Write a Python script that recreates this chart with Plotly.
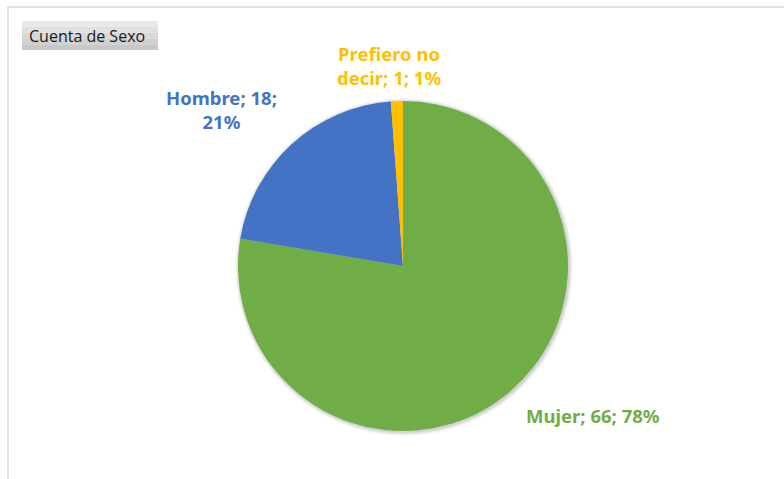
import plotly.graph_objects as go

# data
labels = ["Mujer", "Hombre", "Prefiero no decir"]
values = [66, 18, 1]
colors = ["#70AD47", "#4472C4", "#FFC000"]
label_text = ["Mujer; 66; 78%", "Hombre; 18;<br>21%", "Prefiero no<br>decir; 1; 1%"]
title = "Cuenta de Sexo"

W, H = 784, 479

def px(x):
    return x / W

def py(y):
    return 1 - y / H

# pie box in pixels (left, top, right, bottom)
PL, PT, PR, PB = 238, 101, 568, 431

fig = go.Figure(go.Pie(
    labels=labels,
    values=values,
    marker=dict(colors=colors, line=dict(width=0)),
    sort=False,
    direction="clockwise",
    rotation=0,
    textinfo="none",
    hoverinfo="label+value+percent",
    domain=dict(x=[px(PL), px(PR)], y=[py(PB), py(PT)]),
    showlegend=False,
))

# soft shadow round the pie
for d, op in [(4, 0.03), (3, 0.04), (2, 0.05), (1, 0.06)]:
    fig.add_shape(type="circle", xref="paper", yref="paper", layer="below",
                  x0=px(PL - d + 1), x1=px(PR + d + 1),
                  y0=py(PB + d + 1), y1=py(PT - d + 1),
                  line=dict(width=0), fillcolor=f"rgba(0,0,0,{op})")

# data labels placed outside the pie, like Excel does
label_pos = [(593, 415), (221, 110), (389, 65)]
for txt, col, (x, y) in zip(label_text, colors, label_pos):
    fig.add_annotation(
        x=px(x), y=py(y), xref="paper", yref="paper",
        text=f"<b>{txt}</b>", showarrow=False,
        font=dict(family="Noto Sans", size=18.5, color=col),
        align="center", xanchor="center", yanchor="middle",
    )

# chart frame
fig.add_shape(type="rect", xref="paper", yref="paper",
              x0=px(8), x1=px(790), y0=py(490), y1=py(7),
              line=dict(color="#D9D9D9", width=1.5), fillcolor="rgba(0,0,0,0)")

# field button "Cuenta de Sexo" (grey gradient)
band_cols = ["#E8E8E8", "#E0E0E0", "#D8D8D8", "#D0D0D0", "#C8C8C8"]
top, bot = 21, 50
step = (bot - top) / len(band_cols)
for i, c in enumerate(band_cols):
    fig.add_shape(type="rect", xref="paper", yref="paper",
                  x0=px(22), x1=px(158), y0=py(top + (i + 1) * step), y1=py(top + i * step),
                  line=dict(width=0), fillcolor=c)
fig.add_annotation(
    x=px(27), y=py(36), xref="paper", yref="paper",
    text=title, showarrow=False,
    font=dict(family="Open Sans", size=16, color="#1A1A1A"),
    xanchor="left", yanchor="middle",
)

fig.update_layout(
    width=W, height=H,
    margin=dict(l=0, r=0, t=0, b=0),
    paper_bgcolor="white",
    plot_bgcolor="white",
)

fig.write_html("out.html", config={"displayModeBar": False},
               post_script="document.body.style.margin='0';")
